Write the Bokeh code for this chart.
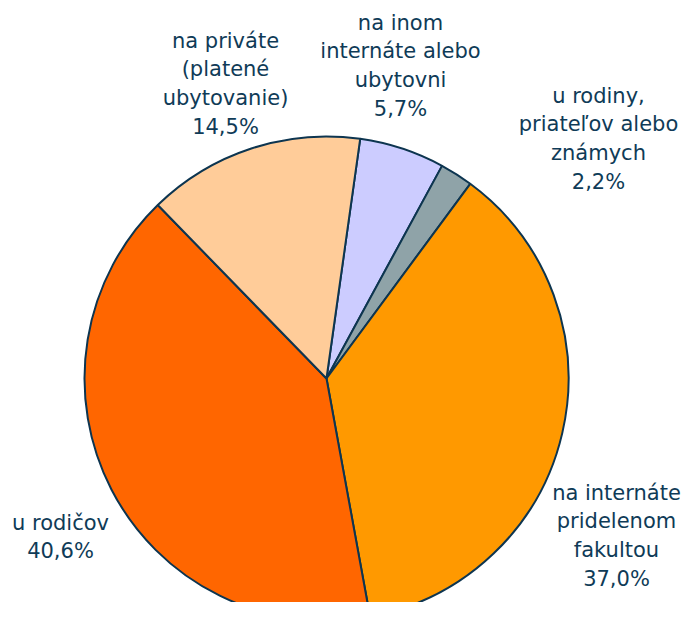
import numpy as np
from bokeh.plotting import figure
from bokeh.models import Range1d, ColumnDataSource
from bokeh.core.properties import value
from bokeh.embed import file_html
from bokeh.resources import INLINE

categories = [
    "na inom\ninternáte alebo\nubytovni",
    "u rodiny,\npriateľov alebo\nznámych",
    "na internáte\npridelenom\nfakultou",
    "u rodičov",
    "na priváte\n(platené\nubytovanie)",
]
shares = [5.7, 2.2, 37.0, 40.6, 14.5]
colors = ["#CCCCFF", "#8FA3A8", "#FF9900", "#FF6600", "#FFCC99"]

# layout (pixel coords)
W, H = 682, 602
CX, CY, R = 326, 378, 242
START_DEG = 8.0  # clockwise from 12 o'clock
label_x = [400, 598, 616, 60, 225]
label_top = [22, 95, 492, 522, 40]

p = figure(width=W, height=H, output_backend="svg", toolbar_location=None,
           x_range=Range1d(0, W), y_range=Range1d(H, 0),
           min_border=0)
p.axis.visible = False
p.grid.visible = False
p.outline_line_color = None
p.background_fill_color = "white"

vals = np.array(shares)
cum = np.concatenate([[0], np.cumsum(vals)]) / vals.sum() * 360.0
theta1 = START_DEG + cum[:-1]
theta2 = START_DEG + cum[1:]
start = np.deg2rad(90 - theta1)
end = np.deg2rad(90 - theta2)

src = ColumnDataSource(dict(start=start, end=end, color=colors))
p.wedge(x=CX, y=CY, radius=R, start_angle="start", end_angle="end",
        direction="clock", fill_color="color", line_color="#0D3550",
        line_width=2, source=src)

texts = []
for c, v in zip(categories, shares):
    texts.append(c + "\n" + f"{v:.1f}".replace(".", ",") + "%")
ty = [top - 12 for top in label_top]
lsrc = ColumnDataSource(dict(x=label_x, y=ty, text=texts))
p.text(x="x", y="y", text="text", source=lsrc, text_align="center",
       text_baseline="top", text_font=value("DejaVu Sans"),
       text_font_size="21px", text_color="#0F3B57", text_line_height=1.2)

open("out.html", "w").write(file_html(p, INLINE))
